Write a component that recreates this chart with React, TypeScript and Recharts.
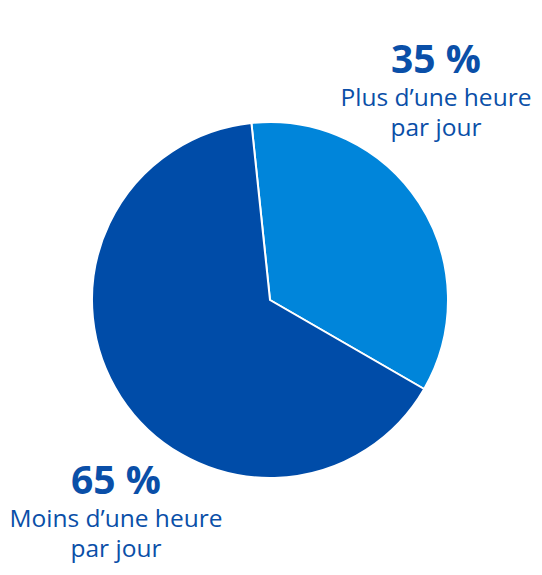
import { PieChart, Pie, Cell } from 'recharts';

// share of respondents by daily time
const categories = ['Plus d\u2019une heure par jour', 'Moins d\u2019une heure par jour'];
const values = [35, 65];
const percentLabels = ['35 %', '65 %'];
const labelLines = [
    ['Plus d\u2019une heure', 'par jour'],
    ['Moins d\u2019une heure', 'par jour'],
];

const colors = ['#0085DA', '#004CA8'];
const textColor = '#0A4FA8';

// label anchors relative to the pie centre
const labelOffsets = [
    { dx: 166, dy: -227 },
    { dx: -154, dy: 194 },
];

const data = categories.map((name, i) => ({ name, value: values[i] }));

const renderLabel = (props: any) => {
    const { cx, cy, index } = props;
    const off = labelOffsets[index];
    const x = cx + off.dx;
    const y = cy + off.dy;
    return (
        <g key={`lbl-${index}`}>
            <text x={x} y={y} textAnchor="middle" fill={textColor} fontSize={39} fontWeight={700} fontFamily="'Open Sans', sans-serif">
                {percentLabels[index]}
            </text>
            {labelLines[index].map((line, j) => (
                <text key={j} x={x} y={y + 33 + j * 30} textAnchor="middle" fill={textColor} fontSize={24.5} fontWeight={500} fontFamily="'Open Sans', sans-serif">
                    {line}
                </text>
            ))}
        </g>
    );
};

export default function App() {
    return (
        <div style={{ position: 'absolute', left: 0, top: 0, width: 542, height: 575, background: '#fff' }}>
            <PieChart width={542} height={575} margin={{ top: 0, right: 0, bottom: 0, left: 0 }}>
                <Pie
                    data={data}
                    dataKey="value"
                    cx={270}
                    cy={300}
                    outerRadius={178}
                    startAngle={96}
                    endAngle={-264}
                    stroke="#ffffff"
                    strokeWidth={2}
                    label={renderLabel}
                    labelLine={false}
                    isAnimationActive={false}
                >
                    {data.map((d, i) => (
                        <Cell key={d.name} fill={colors[i]} />
                    ))}
                </Pie>
            </PieChart>
        </div>
    );
}
